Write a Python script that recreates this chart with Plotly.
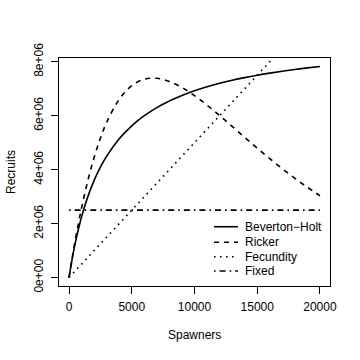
import plotly.graph_objects as go

spawners = [0, 250, 500, 750, 1000, 1500, 2000, 2500, 3000, 4000, 5000, 6000, 7000,
            8000, 9000, 10000, 11000, 12000, 13000, 14000, 15000, 16000, 17000,
            18000, 19000, 20000]
beverton_holt = [0, 0.692, 1.286, 1.8, 2.25, 3.0, 3.6, 4.091, 4.5, 5.143, 5.625, 6.0,
                 6.3, 6.545, 6.75, 6.923, 7.071, 7.2, 7.313, 7.412, 7.5, 7.579, 7.65,
                 7.714, 7.773, 7.826]
ricker = [0, 0.723, 1.392, 2.012, 2.584, 3.597, 4.452, 5.164, 5.752, 6.606, 7.112,
          7.351, 7.387, 7.272, 7.047, 6.744, 6.389, 6.005, 5.604, 5.197, 4.797,
          4.407, 4.034, 3.678, 3.345, 3.032]
fecundity_s = [0, 20000]
fecundity = [0, 10.0]
fixed_s = [0, 20000]
fixed = [2.5, 2.5]

series_names = ["Beverton\u2212Holt", "Ricker", "Fecundity", "Fixed"]

y_ticks = [0, 2e6, 4e6, 6e6, 8e6]
y_tick_text = ["0e+00", "2e+06", "4e+06", "6e+06", "8e+06"]
x_ticks = [0, 5000, 10000, 15000, 20000]
x_tick_text = ["0", "5000", "10000", "15000", "20000"]

M = 1e6
FONT = "Liberation Sans, Arial, Helvetica, sans-serif"
LW = 1.6
dashes = ["solid", "5px,5px", "1.6px,4.4px", "1.6px,4px,6px,4px"]
smooth = ["spline", "spline", "linear", "linear"]
xs = [spawners, spawners, fecundity_s, fixed_s]
ys = [beverton_holt, ricker, fecundity, fixed]

fig = go.Figure()
for name, x, y, d, sh in zip(series_names, xs, ys, dashes, smooth):
    fig.add_trace(go.Scatter(x=x, y=[v * M for v in y], mode="lines", name=name,
                             showlegend=False, hoverinfo="skip",
                             line=dict(color="black", width=LW, dash=d, shape=sh)))

# manual legend (R style, no box), bottom-right of plot area
shapes = []
annotations = []
leg_rows = [0.260, 0.1917, 0.1285, 0.0658]
for name, d, yy in zip(series_names, dashes, leg_rows):
    shapes.append(dict(type="line", xref="paper", yref="paper", x0=0.572, x1=0.6605,
                       y0=yy, y1=yy, line=dict(color="black", width=LW, dash=d)))
    annotations.append(dict(text=name, xref="paper", yref="paper", x=0.679, y=yy,
                            showarrow=False, xanchor="left", yanchor="middle",
                            font=dict(size=12)))

annotations += [
    dict(text="Spawners", xref="paper", yref="paper", x=0.5, y=0, yshift=-49,
         showarrow=False, xanchor="center", yanchor="middle", font=dict(size=12)),
    dict(text="Recruits", xref="paper", yref="paper", x=0, y=0.5, xshift=-48,
         showarrow=False, xanchor="center", yanchor="middle", textangle=-90,
         font=dict(size=12)),
]

fig.update_layout(
    width=360, height=360,
    margin=dict(l=59, r=30, t=58, b=74),
    paper_bgcolor="white", plot_bgcolor="white",
    font=dict(family=FONT, size=12, color="black"),
    showlegend=False,
    shapes=shapes,
    annotations=annotations,
)
fig.update_xaxes(range=[-800, 20800], tickvals=x_ticks, ticktext=x_tick_text,
                 ticks="outside", ticklen=7, tickwidth=1, tickcolor="black",
                 showline=True, linecolor="black", linewidth=1, mirror=True,
                 showgrid=False, zeroline=False, ticklabelstandoff=3)
fig.update_yaxes(range=[-0.313e6, 8.139e6], tickvals=y_ticks, ticktext=y_tick_text,
                 ticks="outside", ticklen=7, tickwidth=1, tickcolor="black",
                 showline=True, linecolor="black", linewidth=1, mirror=True,
                 showgrid=False, zeroline=False, tickangle=-90, ticklabelstandoff=3)

fig.write_html("out.html", config={"displayModeBar": False},
               post_script="document.body.style.margin='0';")
